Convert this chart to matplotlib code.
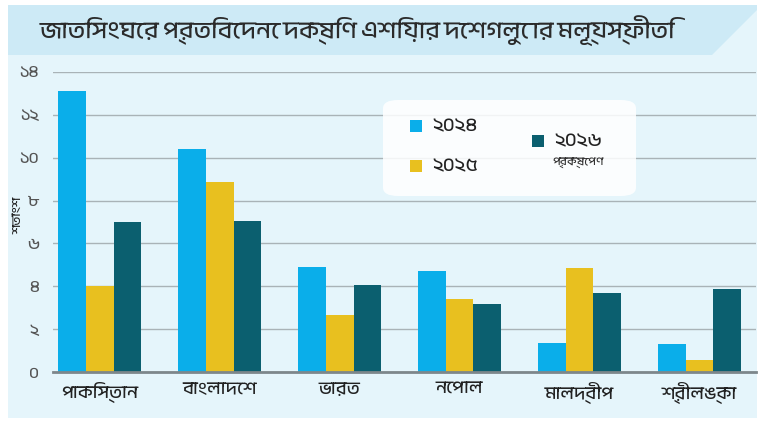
import matplotlib
matplotlib.use("Agg")
import matplotlib.pyplot as plt
from matplotlib import font_manager
from matplotlib.ft2font import FT2Font
from matplotlib.patches import FancyBboxPatch, Polygon, Rectangle
import numpy as np

# ---------------- data ----------------
countries = ["পাকিস্তান", "বাংলাদেশ", "ভারত", "নেপাল", "মালদ্বীপ", "শ্রীলঙ্কা"]
series_labels = ["২০২৪", "২০২৫", "২০২৬"]
values_2024 = [13.1, 10.4, 4.9, 4.7, 1.35, 1.3]
values_2025 = [4.0, 8.85, 2.65, 3.4, 4.85, 0.55]
values_2026 = [7.0, 7.05, 4.05, 3.2, 3.7, 3.9]
y_ticks = [0, 2, 4, 6, 8, 10, 12, 14]
y_tick_labels = ["০", "২", "৪", "৬", "৮", "১০", "১২", "১৪"]
y_label = "শতাংশ"
title = "জাতিসংঘের প্রতিবেদনে দক্ষিণ এশিয়ার দেশগুলোর মূল্যস্ফীতি"
projection_note = "প্রক্ষেপণ"

colors = ["#0aaeea", "#e8c01f", "#0b5f6f"]

# --------- find a font with Bengali glyphs ----------
def find_bengali_fonts():
    found = []
    seen = set()
    for f in font_manager.fontManager.ttflist:
        if f.name in seen:
            continue
        try:
            cmap = FT2Font(f.fname).get_charmap()
        except Exception:
            continue
        if 0x0995 in cmap and 0x09CD in cmap:
            found.append(f.name)
            seen.add(f.name)
    return found

beng = find_bengali_fonts()
pref = [n for n in beng if "Bengali" in n or "Bangla" in n] + beng
family = ([pref[0]] if pref else []) + ["DejaVu Sans"]
plt.rcParams["font.family"] = family

W, H = 762, 422
fig = plt.figure(figsize=(W / 100, H / 100), dpi=100)
fig.patch.set_facecolor("white")

def fx(px):
    return px / W

def fy(py):
    return 1 - py / H

# background panel
fig.add_artist(Rectangle((fx(8), fy(418)), fx(757) - fx(8), fy(5) - fy(418),
                         transform=fig.transFigure, facecolor="#e5f5fb",
                         edgecolor="none", zorder=0))
# title band with diagonal right edge
band = Polygon([(fx(8), fy(5)), (fx(757), fy(5)), (fx(757), fy(10)),
                (fx(712), fy(55)), (fx(8), fy(55))],
               closed=True, transform=fig.transFigure, facecolor="#cdeaf6",
               edgecolor="none", zorder=0.5)
fig.add_artist(band)

fig.text(fx(40), fy(31), title, fontsize=17.5, color="#2b2b2b", va="center", ha="left")

# axes
ax_left, ax_right, ax_top, ax_bottom = 53, 756, 71.7, 372.3
ax = fig.add_axes([fx(ax_left), fy(ax_bottom), fx(ax_right) - fx(ax_left),
                   fy(ax_top) - fy(ax_bottom)])
ax.set_facecolor("none")

x = np.arange(len(countries))
bw = 0.23
for i, (vals, c) in enumerate(zip([values_2024, values_2025, values_2026], colors)):
    ax.bar(x + (i - 1) * bw, vals, width=bw, color=c, zorder=3, linewidth=0)

ax.set_xlim(-0.39, 5.47)
ax.set_ylim(0, 14)
ax.set_yticks(y_ticks)
ax.set_yticklabels(y_tick_labels, fontsize=12, color="#555555")
ax.set_xticks(x)
ax.set_xticklabels(countries, fontsize=13, color="#222222")
ax.tick_params(axis="both", length=0)
ax.tick_params(axis="y", pad=10)
ax.tick_params(axis="x", pad=7)
ax.grid(axis="y", color="#a9b3b7", linewidth=1, zorder=1)
for s in ["top", "right", "left"]:
    ax.spines[s].set_visible(False)
ax.spines["bottom"].set_color("#7d878b")
ax.spines["bottom"].set_linewidth(2)
ax.spines["bottom"].set_zorder(4)

fig.text(fx(18), fy(215), y_label, rotation=90, fontsize=9, color="#222222",
         ha="center", va="center")

# legend box
lg = FancyBboxPatch((fx(383), fy(196)), fx(636) - fx(383), fy(100) - fy(196),
                    boxstyle="round,pad=0,rounding_size=0.02",
                    transform=fig.transFigure, facecolor="white", alpha=0.85,
                    edgecolor="none", zorder=5)
fig.add_artist(lg)
legend_items = [
    (410, 126, series_labels[0], colors[0]),
    (410, 166, series_labels[1], colors[1]),
    (532, 141, series_labels[2], colors[2]),
]
for px, py, lab, c in legend_items:
    fig.add_artist(Rectangle((fx(px), fy(py + 6)), fx(12), 12 / H,
                             transform=fig.transFigure, facecolor=c,
                             edgecolor="none", zorder=6))
    fig.text(fx(px + 22), fy(py), lab, fontsize=14, color="#222222",
             va="center", ha="left", zorder=7)
fig.text(fx(552), fy(163), projection_note, fontsize=8.5, color="#333333",
         va="center", ha="left", zorder=7)

fig.savefig("out.png", dpi=100, facecolor=fig.get_facecolor())
